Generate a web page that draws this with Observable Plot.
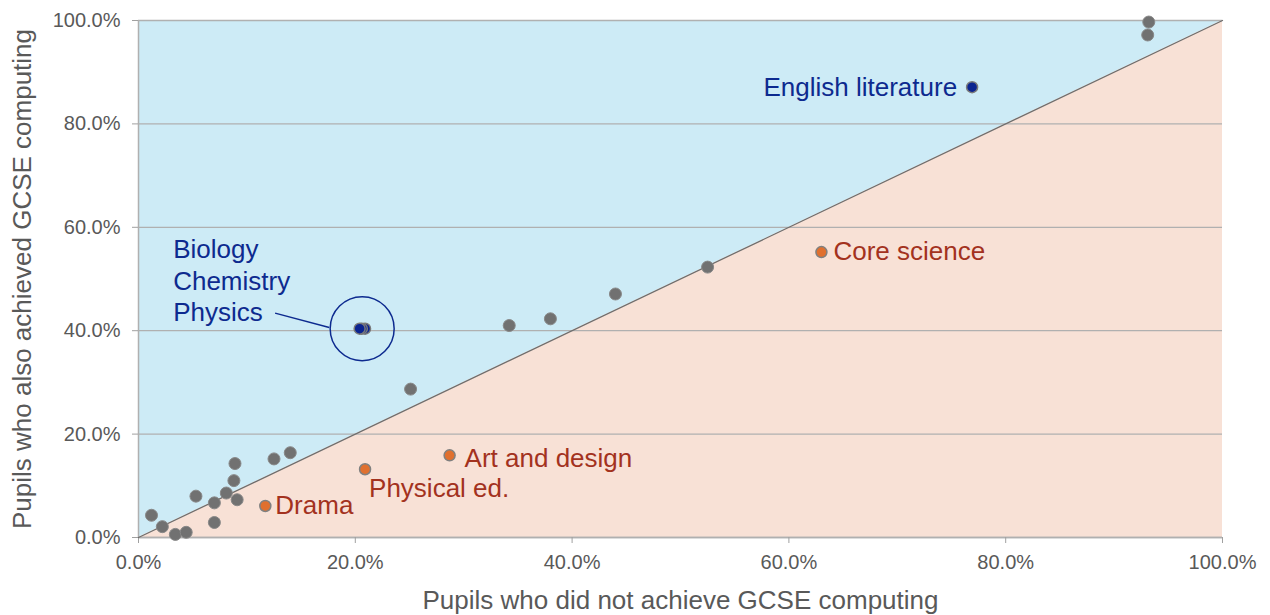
<!DOCTYPE html>
<html>
<head>
<meta charset="utf-8">
<script src="https://cdn.jsdelivr.net/npm/d3@7"></script>
<script src="https://cdn.jsdelivr.net/npm/@observablehq/plot@0.6"></script>
<style>
  html, body { margin: 0; padding: 0; background: #ffffff; }
  #chart svg { display: block; }
</style>
</head>
<body>
<div id="chart"></div>
<script>
// ---- Data (share of pupils, 0..1) ----
// Other subjects (grey)
const otherX = [0.012, 0.022, 0.034, 0.044, 0.053, 0.070, 0.070, 0.081, 0.088, 0.089, 0.091, 0.125, 0.140,
                0.251, 0.342, 0.380, 0.440, 0.525, 0.932, 0.931];
const otherY = [0.043, 0.021, 0.006, 0.010, 0.080, 0.067, 0.029, 0.086, 0.110, 0.143, 0.073, 0.152, 0.164,
                0.287, 0.410, 0.423, 0.471, 0.523, 0.997, 0.972];

// Subjects higher among non-computing pupils (orange)
const orangeNames = ["Drama", "Physical ed.", "Art and design", "Core science"];
const orangeX = [0.117, 0.209, 0.287, 0.630];
const orangeY = [0.061, 0.132, 0.159, 0.552];

// Subjects higher among computing pupils (navy)
const blueNames = ["Physics", "Chemistry", "Biology", "English literature"];
const blueX = [0.209, 0.206, 0.204, 0.769];
const blueY = [0.404, 0.404, 0.404, 0.871];

// Tick labels
const ticks = [0, 0.2, 0.4, 0.6, 0.8, 1.0];
const xTitle = "Pupils who did not achieve GCSE computing";
const yTitle = "Pupils who also achieved GCSE computing";

// Annotation offsets in pixels relative to their point
const annotOrange = [
  {name: "Drama", dx: 10, dy: 0},
  {name: "Physical ed.", dx: 4, dy: 19},
  {name: "Art and design", dx: 15, dy: 3},
  {name: "Core science", dx: 12, dy: 0}
];
const scienceLabel = "Biology\nChemistry\nPhysics";
// leader line from label to circle (data units)
const leaderX1 = 0.126, leaderY1 = 0.434, leaderX2 = 0.176, leaderY2 = 0.406;

// ---- Build tables ----
const others = otherX.map((x, i) => ({x, y: otherY[i]}));
const oranges = orangeNames.map((n, i) => ({name: n, x: orangeX[i], y: orangeY[i]}));
const blues = blueNames.map((n, i) => ({name: n, x: blueX[i], y: blueY[i]}));
const sci = blues.filter(d => d.name !== "English literature");
const sciCenter = {x: d3.mean(sci, d => d.x), y: d3.mean(sci, d => d.y)};
const eng = blues.filter(d => d.name === "English literature");

const BLUE_TXT = "#0d2a8f";
const RED_TXT = "#a3321e";
const GREY_TXT = "#595959";
const ANNOT_SIZE = 26;

const orangeTextMarks = annotOrange.map(a =>
  Plot.text(oranges.filter(o => o.name === a.name), {
    x: "x", y: "y", text: "name", dx: a.dx, dy: a.dy,
    textAnchor: "start", fontSize: ANNOT_SIZE, fill: RED_TXT
  })
);

const chart = Plot.plot({
  width: 1270,
  height: 615,
  marginLeft: 138,
  marginRight: 48,
  marginTop: 20,
  marginBottom: 78,
  style: {fontFamily: "'Liberation Sans', Arial, sans-serif", background: "#ffffff"},
  x: {domain: [0, 1]},
  y: {domain: [0, 1]},
  marks: [
    // background regions
    Plot.areaY([0, 1], {x: d => d, y1: d => d, y2: 1, fill: "#cdebf6"}),
    Plot.areaY([0, 1], {x: d => d, y1: 0, y2: d => d, fill: "#f8e1d6"}),
    // gridlines
    Plot.gridY(ticks, {stroke: "#b0b0b0", strokeOpacity: 1, strokeWidth: 1.3}),
    // axes lines
    Plot.ruleX([0], {stroke: "#b0b0b0", strokeWidth: 1.5}),
    Plot.ruleY([0], {stroke: "#b0b0b0", strokeWidth: 1.5}),
    Plot.axisX(ticks, {tickFormat: d3.format(".1%"), tickSize: 6, tickPadding: 11, fontSize: 20, color: GREY_TXT, stroke: "#a0a0a0", label: null}),
    Plot.axisY(ticks, {tickFormat: d3.format(".1%"), tickSize: 6, tickPadding: 12, fontSize: 20, color: GREY_TXT, stroke: "#a0a0a0", label: null}),
    // diagonal
    Plot.line([0, 1], {x: d => d, y: d => d, stroke: "#6e6e6e", strokeWidth: 1.3}),
    // points
    Plot.dot(others, {x: "x", y: "y", r: 6, fill: "#717171", stroke: "#888888", strokeWidth: 1}),
    Plot.dot(oranges, {x: "x", y: "y", r: 5.5, fill: "#e0702f", stroke: "#808080", strokeWidth: 1.5}),
    Plot.dot(blues, {x: "x", y: "y", r: 5.5, fill: "#0b2490", stroke: "#7a7a7a", strokeWidth: 1.5}),
    // circle around sciences
    Plot.dot([sciCenter], {x: "x", y: "y", r: 32, fill: "none", stroke: BLUE_TXT, strokeWidth: 1.5}),
    Plot.link([{x1: leaderX1, y1: leaderY1, x2: leaderX2, y2: leaderY2}], {x1: "x1", y1: "y1", x2: "x2", y2: "y2", stroke: BLUE_TXT, strokeWidth: 1.5}),
    // labels
    Plot.text([sciCenter], {x: "x", y: "y", text: () => scienceLabel, dx: -189, dy: -49, textAnchor: "start", lineHeight: 1.2, fontSize: ANNOT_SIZE, fill: BLUE_TXT}),
    Plot.text(eng, {x: "x", y: "y", text: "name", dx: -15, textAnchor: "end", fontSize: ANNOT_SIZE, fill: BLUE_TXT}),
    ...orangeTextMarks,
    // axis titles
    Plot.text([xTitle], {frameAnchor: "bottom", textAnchor: "middle", dy: 71, fontSize: 26, fill: GREY_TXT}),
    Plot.text([yTitle], {frameAnchor: "left", textAnchor: "middle", dx: -116, rotate: -90, fontSize: 26, fill: GREY_TXT})
  ]
});
document.getElementById("chart").appendChild(chart);
</script>
</body>
</html>
